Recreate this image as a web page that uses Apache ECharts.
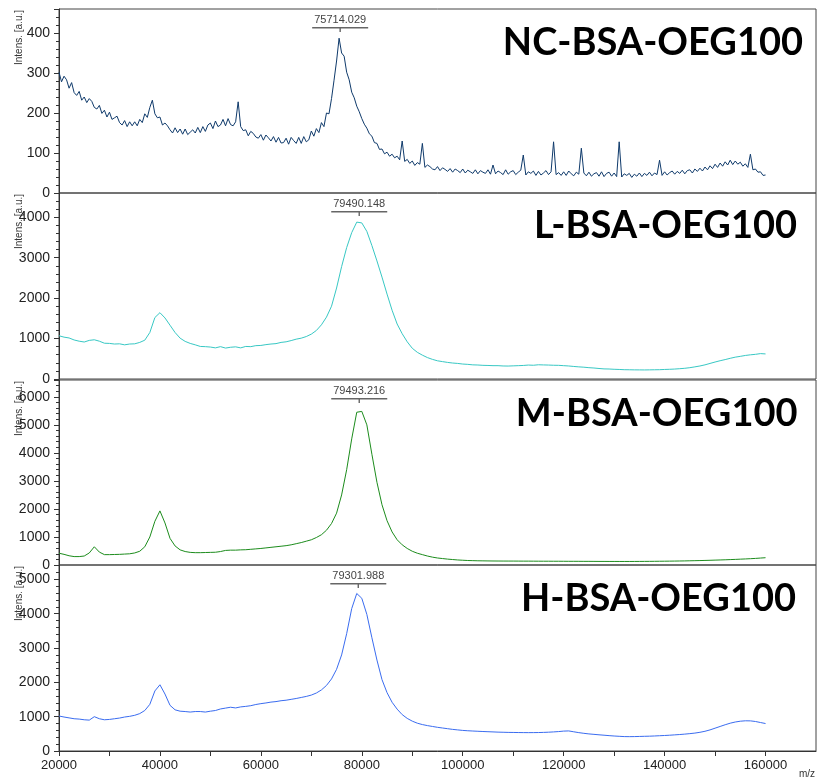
<!DOCTYPE html>
<html>
<head>
<meta charset="utf-8">
<script src="https://cdn.jsdelivr.net/npm/echarts@6.0.0/dist/echarts.min.js"></script>
<style>
  html, body { margin: 0; padding: 0; background: #fff; }
  #chart { width: 817px; height: 783px; }
</style>
</head>
<body>
<div id="chart"></div>
<script>
// MALDI-TOF spectra of BSA conjugates, four stacked panels sharing the m/z axis.

const sampleNames = ['NC-BSA-OEG100', 'L-BSA-OEG100', 'M-BSA-OEG100', 'H-BSA-OEG100'];
const peakMz = [75714.029, 79490.148, 79493.216, 79301.988];
const yAxisMax = [460, 4600, 6600, 5420];
const yTickStep = [100, 1000, 1000, 1000];
const xTickLabels = [20000, 40000, 60000, 80000, 100000, 120000, 140000, 160000];

const MZ_START = 20000;
const NC_STEP = 500;   // NC trace sampled every 500 m/z
const STEP = 1000;     // L, M, H traces sampled every 1000 m/z

// NC-BSA-OEG100, 20000 … 160000 m/z
const ncIntensity = [
  302, 278, 292, 283, 262, 276, 251, 244, 254, 232,
  240, 226, 236, 229, 214, 210, 219, 199, 207, 190,
  202, 184, 188, 192, 176, 170, 181, 166, 178, 168,
  178, 168, 184, 176, 198, 189, 214, 232, 198, 188,
  190, 170, 175, 168, 158, 150, 163, 151, 160, 147,
  160, 146, 152, 158, 150, 164, 151, 166, 154, 170,
  175, 161, 180, 166, 170, 184, 168, 186, 171, 168,
  178, 228, 166, 156, 158, 143, 154, 149, 140, 137,
  146, 132, 145, 138, 130, 141, 127, 139, 125, 126,
  137, 122, 139, 131, 124, 139, 124, 141, 128, 133,
  155, 142, 161, 151, 176, 166, 200, 198, 236, 282,
  330, 387, 350, 342, 302, 283, 252, 238, 217, 203,
  186, 172, 162, 148, 142, 126, 124, 109, 110, 98,
  102, 92, 97, 88, 92, 83, 130, 79, 84, 74,
  80, 69, 76, 72, 124, 64, 70, 66, 60, 58,
  66, 56, 63, 59, 54, 61, 52, 60, 56, 51,
  60, 50, 57, 53, 49, 58, 48, 56, 52, 49,
  58, 47, 70, 48, 55, 51, 46, 58, 47, 53,
  56, 46, 52, 57, 95, 45, 53, 49, 55, 44,
  54, 45, 50, 56, 46, 53, 128, 46, 51, 44,
  53, 44, 55, 48, 43, 52, 47, 112, 50, 43,
  52, 42, 48, 51, 42, 53, 41, 49, 52, 42,
  50, 41, 128, 40, 48, 44, 49, 39, 47, 42,
  50, 41, 49, 44, 52, 43, 50, 46, 82, 44,
  53, 45, 51, 55, 47, 54, 49, 57, 48, 56,
  58, 50, 60, 54, 62, 55, 65, 58, 68, 61,
  72, 64, 75, 67, 78, 70, 82, 71, 80, 72,
  77, 67, 73, 64, 97, 58, 60, 52, 53, 44,
  45
];

// L-BSA-OEG100
const lIntensity = [
  1070, 1035, 1015, 965, 935, 915, 955, 970, 935, 885,
  880, 865, 870, 845, 865, 870, 905, 960, 1150, 1520,
  1640, 1510, 1330, 1150, 1010, 930, 880, 845, 805, 800,
  790, 770, 800, 765, 785, 795, 770, 805, 800, 825,
  830, 850, 865, 875, 905, 920, 950, 985, 1010, 1050,
  1110, 1200, 1340, 1530, 1800, 2250, 2780, 3250, 3620, 3880,
  3860, 3650, 3300, 2920, 2520, 2100, 1700, 1360, 1120, 920,
  760, 660, 590, 530, 485, 450, 430, 410, 395, 385,
  370, 362, 350, 346, 338, 335, 330, 330, 322, 320,
  325, 330, 335, 345, 340, 352, 348, 345, 340, 338,
  330, 322, 310, 300, 292, 280, 272, 260, 250, 247,
  240, 236, 230, 228, 226, 225, 224, 226, 228, 230,
  236, 240, 246, 255, 265, 280, 300, 322, 350, 385,
  420, 452, 480, 512, 540, 560, 582, 598, 610, 628,
  620
];

// M-BSA-OEG100
const mIntensity = [
  420, 380, 330, 300, 300, 320, 430, 650, 460, 370,
  370, 375, 380, 390, 400, 430, 490, 650, 1000, 1560,
  1930, 1500, 950, 680, 540, 480, 450, 440, 440, 445,
  450, 455, 480, 520, 530, 530, 540, 545, 560, 575,
  590, 610, 630, 650, 670, 690, 720, 760, 800, 850,
  900, 980, 1080, 1240, 1480, 1850, 2500, 3400, 4500, 5450,
  5480, 5000, 3950, 2950, 2150, 1580, 1180, 900, 720, 590,
  490, 420, 370, 320, 280, 250, 230, 210, 195, 180,
  170, 160, 155, 150, 148, 145, 143, 142, 141, 140,
  140, 139, 138, 138, 137, 136, 135, 135, 134, 134,
  133, 132, 132, 131, 130, 130, 129, 128, 128, 127,
  127, 126, 126, 126, 127, 128, 129, 130, 132, 134,
  136, 138, 140, 143, 146, 150, 154, 158, 163, 168,
  174, 180, 186, 193, 200, 208, 216, 225, 235, 248,
  260
];

// H-BSA-OEG100
const hIntensity = [
  1020, 990, 965, 940, 930, 910, 900, 1000, 940, 910,
  920, 940, 960, 990, 1010, 1040, 1090, 1180, 1360, 1750,
  1930, 1660, 1330, 1200, 1160, 1150, 1135, 1150, 1150, 1135,
  1160, 1180, 1225, 1250, 1275, 1255, 1285, 1300, 1320, 1355,
  1380, 1400, 1425, 1440, 1465, 1480, 1505, 1530, 1560, 1590,
  1630, 1690, 1780, 1910, 2100, 2380, 2800, 3420, 4150, 4590,
  4450, 3980, 3300, 2650, 2080, 1700, 1420, 1220, 1060, 950,
  870, 810, 770, 740, 715, 690, 670, 650, 630, 615,
  600, 590, 582, 575, 568, 562, 556, 550, 546, 542,
  540, 538, 536, 535, 536, 538, 542, 548, 556, 566,
  580, 585, 560, 535, 515, 498, 485, 472, 460, 448,
  437, 428, 420, 418, 420, 424, 428, 432, 438, 445,
  452, 460, 470, 480, 492, 506, 522, 545, 575, 615,
  665, 715, 765, 810, 845, 868, 880, 878, 860, 830,
  800
];

const traces = [
  { values: ncIntensity, step: NC_STEP, color: '#0f3a6b' },
  { values: lIntensity, step: STEP, color: '#38c8c4' },
  { values: mIntensity, step: STEP, color: '#1c8c1c' },
  { values: hIntensity, step: STEP, color: '#3a6cf0' }
];

const panelTop = [9, 193, 380, 565];
const panelHeight = [184, 186, 185, 186];
const PLOT_LEFT = 59;
const PLOT_WIDTH = 757;
const AXIS_COLOR = '#333';
const TICK_FONT = '"Liberation Sans", Arial, sans-serif';

// bracket with a small centre tick used under each peak label
const BRACKET = 'path://M0,0H56V1.4H0Z M27.3,1.4H28.7V5H27.3Z';

const last = sampleNames.length - 1;

const grid = sampleNames.map((_, i) => ({
  left: PLOT_LEFT, width: PLOT_WIDTH, top: panelTop[i], height: panelHeight[i],
  show: true, borderColor: '#444', borderWidth: 1, backgroundColor: 'transparent'
}));

const xAxis = sampleNames.map((_, i) => ({
  type: 'value', gridIndex: i, min: 20000, max: 170000, interval: 10000,
  axisLine: { show: i === last, lineStyle: { color: AXIS_COLOR, width: 1 } },
  axisTick: { show: i === last, length: 5, lineStyle: { color: AXIS_COLOR } },
  axisLabel: {
    show: i === last, color: '#222', fontSize: 13, fontFamily: TICK_FONT, margin: 8,
    showMaxLabel: false,
    formatter: v => (xTickLabels.indexOf(v) >= 0 ? String(v) : '')
  },
  splitLine: { show: false }
}));

const yAxis = sampleNames.map((_, i) => ({
  type: 'value', gridIndex: i, min: 0, max: yAxisMax[i], interval: yTickStep[i],
  axisLine: { show: true, lineStyle: { color: AXIS_COLOR, width: 1 } },
  axisTick: { show: true, length: 5, lineStyle: { color: AXIS_COLOR } },
  minorTick: { show: true, splitNumber: 5, length: 3, lineStyle: { color: AXIS_COLOR } },
  axisLabel: {
    color: '#222', fontSize: 14, fontFamily: TICK_FONT, margin: 9, showMaxLabel: false,
    formatter: v => String(v)
  },
  splitLine: { show: false }
}));

const series = traces.map((t, i) => ({
  type: 'line', name: sampleNames[i], xAxisIndex: i, yAxisIndex: i,
  data: t.values.map((v, k) => [MZ_START + k * t.step, v]),
  showSymbol: false, symbol: 'none', silent: true, animation: false,
  lineStyle: { width: 1, color: t.color }, itemStyle: { color: t.color },
  markPoint: {
    silent: true, animation: false,
    symbol: BRACKET, symbolSize: [56, 5], symbolOffset: [0, 20.5],
    itemStyle: { color: '#666' },
    label: {
      show: true, position: 'top', distance: 2, color: '#444',
      fontSize: 11, fontFamily: TICK_FONT,
      formatter: () => peakMz[i].toFixed(3)
    },
    data: [{ coord: [peakMz[i], yAxisMax[i]] }]
  }
}));

// sample names, y-axis titles and the m/z unit
const nameRight = [803, 797, 797.5, 796];
const nameMid = [42.5, 226, 414, 599];
const graphic = [];
sampleNames.forEach((name, i) => {
  graphic.push({
    type: 'text', x: nameRight[i], y: nameMid[i], silent: true,
    style: { text: name, font: 'bold 38px Lato, "Open Sans", sans-serif', fill: '#000', align: 'right', verticalAlign: 'middle' }
  });
  graphic.push({
    type: 'text', x: 19, y: panelTop[i] + 1, rotation: Math.PI / 2, silent: true,
    style: { text: 'Intens. [a.u.]', font: '10px "Liberation Sans", Arial, sans-serif', fill: '#333', align: 'right', verticalAlign: 'middle' }
  });
});
graphic.push({
  type: 'text', x: 815, y: 774, silent: true,
  style: { text: 'm/z', font: '10px "Liberation Sans", Arial, sans-serif', fill: '#333', align: 'right', verticalAlign: 'middle' }
});

const chart = echarts.init(document.getElementById('chart'), null, { renderer: 'canvas' });
chart.setOption({
  backgroundColor: '#fff',
  animation: false,
  grid, xAxis, yAxis, series, graphic
});
</script>
</body>
</html>
